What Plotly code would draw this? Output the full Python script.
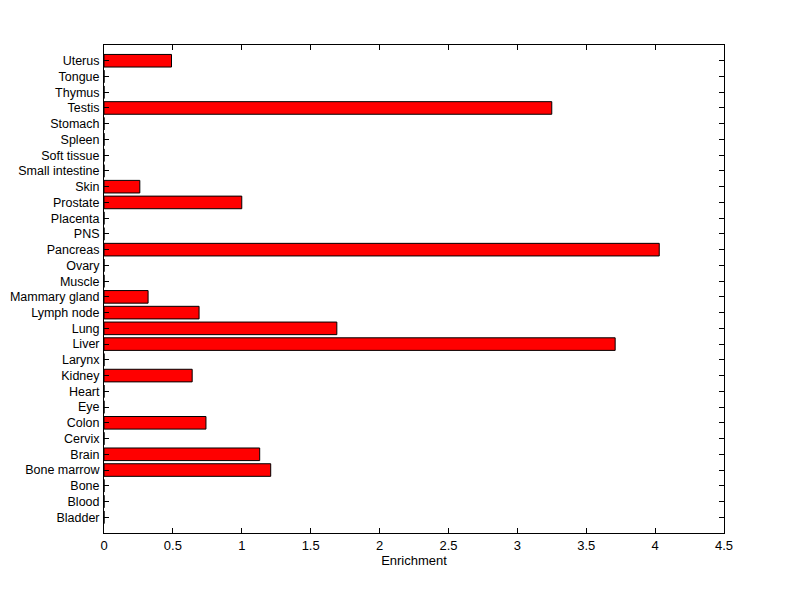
import plotly.graph_objects as go

tissues = ["Bladder", "Blood", "Bone", "Bone marrow", "Brain", "Cervix", "Colon", "Eye",
           "Heart", "Kidney", "Larynx", "Liver", "Lung", "Lymph node", "Mammary gland",
           "Muscle", "Ovary", "Pancreas", "PNS", "Placenta", "Prostate", "Skin",
           "Small intestine", "Soft tissue", "Spleen", "Stomach", "Testis", "Thymus",
           "Tongue", "Uterus"]
enrichment = [0, 0, 0, 1.21, 1.13, 0, 0.74, 0, 0, 0.64, 0, 3.71, 1.69, 0.69, 0.32,
              0, 0, 4.03, 0, 0, 1.0, 0.26, 0, 0, 0, 0, 3.25, 0, 0, 0.49]
x_ticks = [0, 0.5, 1, 1.5, 2, 2.5, 3, 3.5, 4, 4.5]

fig = go.Figure(go.Bar(
    x=enrichment, y=tissues, orientation="h",
    marker=dict(color="#ff0000", line=dict(color="black", width=1)),
    width=0.8,
))

fig.update_layout(
    width=792, height=591,
    margin=dict(l=96, r=76, t=37, b=66),
    paper_bgcolor="white", plot_bgcolor="white",
    font=dict(family="Liberation Sans, Arial, sans-serif", size=13, color="black"),
    showlegend=False,
)
fig.update_xaxes(
    range=[0, 4.5], tickvals=x_ticks, ticktext=[str(t) for t in x_ticks],
    ticks="inside", ticklen=5, tickcolor="black", mirror="ticks", automargin=False,
    showline=True, linecolor="black", linewidth=1, showgrid=False, zeroline=False,
    title=dict(text="Enrichment", font=dict(size=13), standoff=4),
)
fig.update_yaxes(
    type="category", categoryorder="array", categoryarray=tissues, automargin=False,
    tickmode="array", tickvals=tissues, ticktext=tissues, ticklabelstandoff=1,
    tickfont=dict(size=12.5),
    range=[-1, 30], ticks="inside", ticklen=5, tickcolor="black", mirror="ticks",
    showline=True, linecolor="black", linewidth=1, showgrid=False, zeroline=False,
)

fig.write_html("out.html")
